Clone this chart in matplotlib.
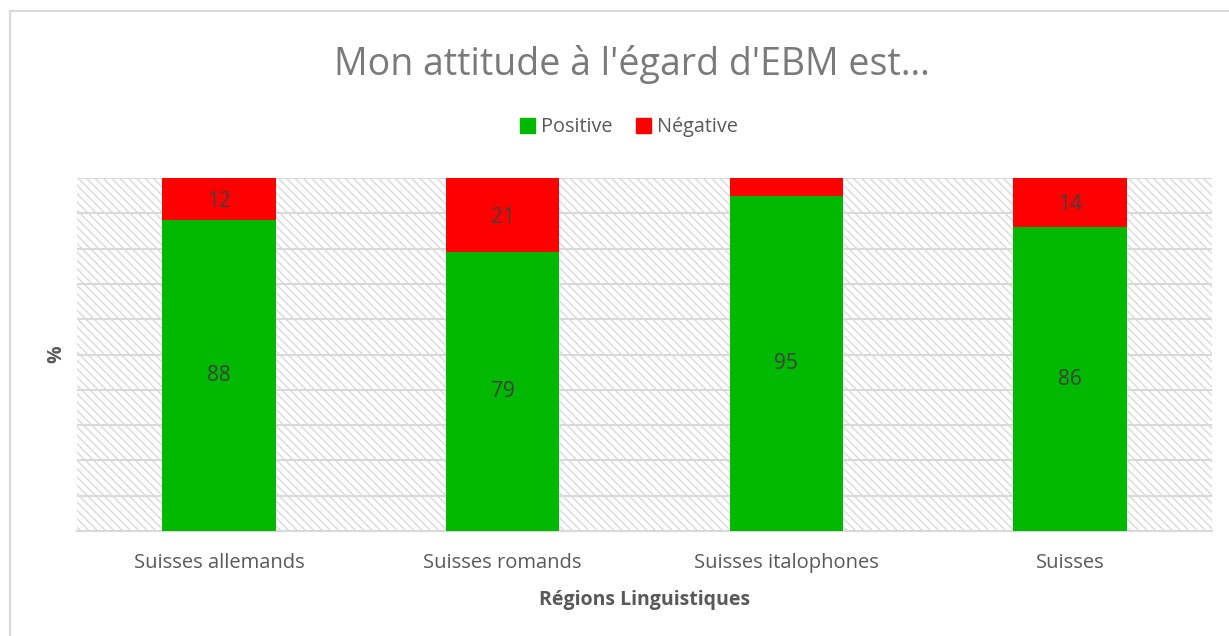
import numpy as np
import matplotlib
matplotlib.use("Agg")
import matplotlib.pyplot as plt
from matplotlib.patches import Rectangle
from matplotlib.lines import Line2D

plt.rcParams['font.family'] = ['Open Sans', 'DejaVu Sans']
plt.rcParams['hatch.color'] = '#d9d9d9'
plt.rcParams['hatch.linewidth'] = 1.0

# data
regions = ["Suisses allemands", "Suisses romands", "Suisses italophones", "Suisses"]
positive = [88, 79, 95, 86]
negative = [12, 21, 5, 14]
neg_labels = ["12", "21", "", "14"]

green = "#00b900"
red = "#ff0000"
grey_text = "#595959"

fig = plt.figure(figsize=(12.29, 6.36), dpi=100)
ax = fig.add_axes([0.0627, 0.1651, 0.9235, 0.555])

# hatched background of the plot area
bg = Rectangle((0, 0), 1, 1, transform=ax.transAxes, facecolor="white",
               edgecolor="#d9d9d9", hatch="\\\\\\\\", linewidth=0, zorder=0)
ax.add_patch(bg)

x = np.arange(len(regions))
ax.bar(x, positive, width=0.4, color=green, zorder=3)
ax.bar(x, negative, width=0.4, bottom=positive, color=red, zorder=3)

for i in range(len(regions)):
    ax.text(x[i], positive[i] / 2, str(positive[i]), ha="center", va="center",
            fontsize=15, color="#404040", zorder=4)
    if neg_labels[i]:
        ax.text(x[i], positive[i] + negative[i] / 2 - 0.6, neg_labels[i], ha="center",
                va="center", fontsize=15, color="#404040", zorder=4)

ax.set_xlim(-0.5, len(regions) - 0.5)
ax.set_ylim(0, 100)
ax.set_yticks(np.arange(0, 101, 10))
ax.yaxis.grid(True, color="#d9d9d9", linewidth=1.5, zorder=1)
ax.set_axisbelow(True)
ax.tick_params(axis="y", length=0, labelleft=False)
ax.tick_params(axis="x", length=0, labelsize=14.5, labelcolor=grey_text, pad=16)
ax.set_xticks(x)
ax.set_xticklabels(regions)
for s in ["top", "right", "left"]:
    ax.spines[s].set_visible(False)
ax.spines["bottom"].set_color("#d9d9d9")
ax.spines["bottom"].set_linewidth(1.5)

ax.set_xlabel("Régions Linguistiques", fontsize=14, fontweight="bold",
              color=grey_text, labelpad=12)
ax.set_ylabel("%", fontsize=14, fontweight="bold", color=grey_text, labelpad=8)

fig.text(0.514, 0.898, "Mon attitude à l'égard d'EBM est…", ha="center", va="center",
         fontsize=27, color="#7a7a7a")

handles = [Rectangle((0, 0), 1, 1, color=green), Rectangle((0, 0), 1, 1, color=red)]
fig.legend(handles, ["Positive", "Négative"], loc="center", bbox_to_anchor=(0.512, 0.8),
           ncol=2, frameon=False, fontsize=14.3, labelcolor=grey_text,
           handlelength=0.75, handleheight=0.75, handletextpad=0.3, columnspacing=1.2)

# chart area border (left and top visible)
fig.add_artist(Line2D([0.0085, 0.0085], [0, 0.982], transform=fig.transFigure,
                      color="#d9d9d9", linewidth=1.5))
fig.add_artist(Line2D([0.0085, 1], [0.982, 0.982], transform=fig.transFigure,
                      color="#d9d9d9", linewidth=1.5))

fig.savefig("out.png", dpi=100)
